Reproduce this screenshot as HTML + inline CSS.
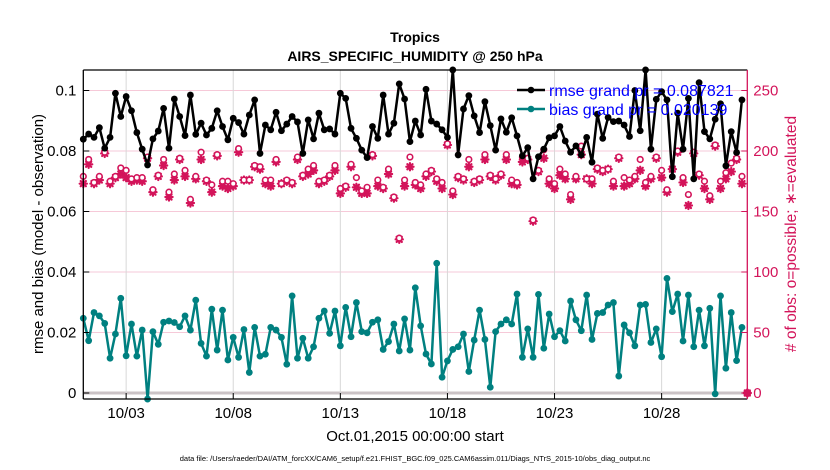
<!DOCTYPE html>
<html><head><meta charset="utf-8"><style>
html,body{margin:0;padding:0;background:#fff;}
svg{display:block;font-family:"Liberation Sans",Arial,sans-serif;}
</style></head><body>
<svg id="chart" width="830" height="470" viewBox="0 0 830 470" xmlns="http://www.w3.org/2000/svg">
<text x="415" y="42" text-anchor="middle" font-size="14" font-weight="bold">Tropics</text>
<text x="415" y="61" text-anchor="middle" font-size="14" font-weight="bold">AIRS_SPECIFIC_HUMIDITY @ 250 hPa</text>
<g id="grid"></g>
<g id="marks"></g>
<g id="axes"></g>
<text transform="translate(43,234) rotate(-90)" text-anchor="middle" font-size="15">rmse and bias (model - observation)</text>
<text transform="translate(796,234) rotate(-90)" text-anchor="middle" font-size="15.5" fill="#d3145a"># of obs: o=possible; ∗=evaluated</text>
<text x="415" y="441" text-anchor="middle" font-size="15">Oct.01,2015 00:00:00 start</text>
<text x="415" y="461" text-anchor="middle" font-size="7.5">data file: /Users/raeder/DAI/ATM_forcXX/CAM6_setup/f.e21.FHIST_BGC.f09_025.CAM6assim.011/Diags_NTrS_2015-10/obs_diag_output.nc</text>
<g id="legend">
<line x1="517" y1="90" x2="545" y2="90" stroke="#000" stroke-width="2.5"/>
<circle cx="531" cy="90" r="3.3" fill="#000"/>
<text x="549" y="96" font-size="16" fill="#0000ff">rmse grand pr = 0.087821</text>
<line x1="517" y1="109" x2="545" y2="109" stroke="#008080" stroke-width="2.5"/>
<circle cx="531" cy="109" r="3.3" fill="#008080"/>
<text x="549" y="115" font-size="16" fill="#0000ff">bias grand pr = 0.020139</text>
</g>
</svg>
<script>
const rmse = [.0839,.0856,.0845,.0877,.0809,.0845,.0991,.0914,.0980,.0933,.0861,.0806,.0754,.0840,.0866,.0941,.0809,.0972,.0914,.0851,.0985,.0855,.0892,.0853,.0875,.0933,.0881,.0837,.0908,.0894,.0856,.0919,.0969,.0792,.0886,.0870,.0928,.0867,.0889,.0914,.0896,.0792,.0903,
.0840,.0925,.0870,.0873,.0856,.0991,.0974,.0875,.0842,.0803,.0778,.0881,.0842,.0985,.0856,.0892,.1022,.0972,.0831,.0899,.0853,.1004,.0899,.0889,.0870,.0845,.1068,.0787,.0939,.0983,.0916,.0861,.0963,.0884,.0803,.0906,.0862,.0910,.0850,.0784,
.0811,.0708,.0781,.0806,.0844,.0850,.0881,.0833,.0796,.0817,.0787,.0845,.0763,.0922,.0842,.0911,.0897,.0899,.0886,.0848,.1000,.0867,.1068,.0806,.0971,.0996,.0969,.0715,.0925,.0806,.0974,.0708,.1026,.0864,.0840,.0905,.0956,.0751,.0864,.0795,.0969,null];
const bias = [.0247,.0173,.0266,.0255,.0230,.0115,.0195,.0313,.0123,.0228,.0122,.0208,-.0020,.0203,.0161,.0234,.0238,.0233,.0219,.0255,.0208,.0307,.0164,.0122,.0277,.0142,.0274,.0109,.0184,.0118,.0210,.0068,.0217,.0122,.0128,.0217,.0208,.0184,.0095,.0321,.0115,.0181,.0115,
.0153,.0247,.0271,.0197,.0271,.0156,.0283,.0186,.0299,.0203,.0199,.0234,.0242,.0144,.0170,.0228,.0139,.0245,.0142,.0348,.0222,.0129,.0096,.0429,.0052,.0106,.0144,.0153,.0195,.0071,.0175,.0274,.0177,.0019,.0203,.0228,.0242,.0228,.0327,.0118,
.0212,.0118,.0326,.0148,.0261,.0186,.0206,.0172,.0304,.0242,.0206,.0324,.0177,.0263,.0266,.0291,.0299,.0056,.0225,.0199,.0156,.0291,.0293,.0167,.0212,.0120,.0379,.0269,.0327,.0172,.0324,.0153,.0274,.0156,.0280,-.0003,.0321,.0082,.0266,.0107,.0217,null];
const possible = [179,193,174,179,199,175,179,186,184,177,178,178,195,168,180,193,166,181,194,184,160,179,199,176,172,197,175,175,173,202,176,176,188,187,176,176,193,173,176,174,195,180,185,
188,175,176,180,188,169,171,189,178,167,170,197,176,170,185,162,128,176,195,174,172,181,184,177,174,206,167,179,177,193,175,177,197,180,177,181,197,176,174,195,
194,143,184,201,177,173,185,181,164,179,204,177,177,186,184,185,175,195,178,176,179,193,174,179,195,184,168,185,200,178,164,199,181,175,163,205,175,182,190,194,179,0];
const evaluated = [173,189,173,176,198,173,178,181,178,175,176,175,194,166,179,188,162,176,193,179,157,177,193,175,166,196,171,169,171,199,176,176,187,185,173,171,191,173,175,173,193,179,181,
184,173,175,179,184,165,170,187,170,165,165,196,171,169,181,161,127,171,187,172,169,179,183,175,169,205,164,178,176,187,174,176,193,179,176,180,193,173,172,191,
193,142,183,194,173,169,180,177,160,177,197,177,173,185,183,185,171,194,171,173,177,184,171,177,194,178,166,185,199,174,155,198,180,169,160,204,169,177,183,193,173,0];
const leftTicks = [0,0.02,0.04,0.06,0.08,0.1];
const leftTickLabels = ["0","0.02","0.04","0.06","0.08","0.1"];
const rightTicks = [0,50,100,150,200,250];
const xTickDays = [2,7,12,17,22,27];
const xTickLabels = ["10/03","10/08","10/13","10/18","10/23","10/28"];

const NS="http://www.w3.org/2000/svg";
const L=83.3,R=747.3,T=70,B=399,DAYS=31;
const xs = i => L + (i/4)*(R-L)/DAYS;
const xd = d => L + d*(R-L)/DAYS;
const yl = v => 393 - v*3025;
const yr = c => 393 - c*1.21;
const CRIM="#d3145a";
function mk(tag,attrs,parent){const e=document.createElementNS(NS,tag);for(const k in attrs)e.setAttribute(k,attrs[k]);parent.appendChild(e);return e;}
const grid=document.getElementById('grid'),marks=document.getElementById('marks'),axes=document.getElementById('axes');

leftTicks.forEach((v,k)=>{
  if(v===0){const g=mk('line',{x1:L,x2:R,y1:yl(v),y2:yl(v),stroke:'#cbc3c6','stroke-width':3},grid);
    
    }
  else{const g=mk('line',{x1:L,x2:R,y1:yl(v),y2:yl(v),stroke:'#f6c9d8','stroke-width':1},grid);
    
    }
});
xTickDays.forEach(d=>{
  const g=mk('line',{x1:xd(d),x2:xd(d),y1:T,y2:B,stroke:'#d8d8d8','stroke-width':1},grid);
  
  
});

evaluated.forEach((c,i)=>{
  const x=xs(i),y=yr(c),s=3.6;
  const g=mk('g',{stroke:CRIM,'stroke-width':2.2,'stroke-linecap':'round'},marks);
  
  
  mk('line',{x1:x-s,y1:y,x2:x+s,y2:y},g);
  mk('line',{x1:x,y1:y-s,x2:x,y2:y+s},g);
  mk('line',{x1:x-s*0.72,y1:y-s*0.72,x2:x+s*0.72,y2:y+s*0.72},g);
  mk('line',{x1:x-s*0.72,y1:y+s*0.72,x2:x+s*0.72,y2:y-s*0.72},g);
});
possible.forEach((c,i)=>{
  const p=mk('circle',{cx:xs(i),cy:yr(c),r:2.8,fill:'#fff',stroke:CRIM,'stroke-width':1.6},marks);
  
  
});
const last=mk('circle',{cx:xs(possible.length-1),cy:yr(0),r:4,fill:CRIM},marks);



function series(vals,color,name){
  let d='';vals.forEach((v,i)=>{if(v===null)return;d+=(d?'L':'M')+xs(i).toFixed(1)+','+yl(v).toFixed(1);});
  const p=mk('path',{d:d,fill:'none',stroke:color,'stroke-width':2.5,'stroke-linejoin':'round'},marks);
  
  
  vals.forEach((v,i)=>{if(v===null)return;
    const c=mk('circle',{cx:xs(i),cy:yl(v),r:3.4,fill:color},marks);
    
    
  });
}
series(rmse,'#000000','rmse');
series(bias,'#008080','bias');

const fr=[[L,T,R,T,'#000'],[L,T,L,B,'#000'],[L,B,R,B,'#000'],[R,T,R,B,CRIM]];
fr.forEach(a=>{const l=mk('line',{x1:a[0],y1:a[1],x2:a[2],y2:a[3],stroke:a[4],'stroke-width':1.3},axes);
  
  });
leftTicks.forEach((v,k)=>{
  mk('line',{x1:L,x2:L+6,y1:yl(v),y2:yl(v),stroke:'#000','stroke-width':1},axes);
  const t=mk('text',{x:L-7,y:yl(v)+5,'text-anchor':'end','font-size':15},axes);
  t.textContent=leftTickLabels[k];
  
  
});
rightTicks.forEach(c=>{
  mk('line',{x1:R-6,x2:R,y1:yr(c),y2:yr(c),stroke:CRIM,'stroke-width':1},axes);
  const t=mk('text',{x:R+6,y:yr(c)+5,'font-size':15,fill:CRIM},axes);
  t.textContent=String(c);
  
  
});
xTickDays.forEach((d,k)=>{
  mk('line',{x1:xd(d),x2:xd(d),y1:B,y2:B-6,stroke:'#000','stroke-width':1},axes);
  const t=mk('text',{x:xd(d),y:418,'text-anchor':'middle','font-size':15},axes);
  t.textContent=xTickLabels[k];
  
  
});
</script>
</body></html>
